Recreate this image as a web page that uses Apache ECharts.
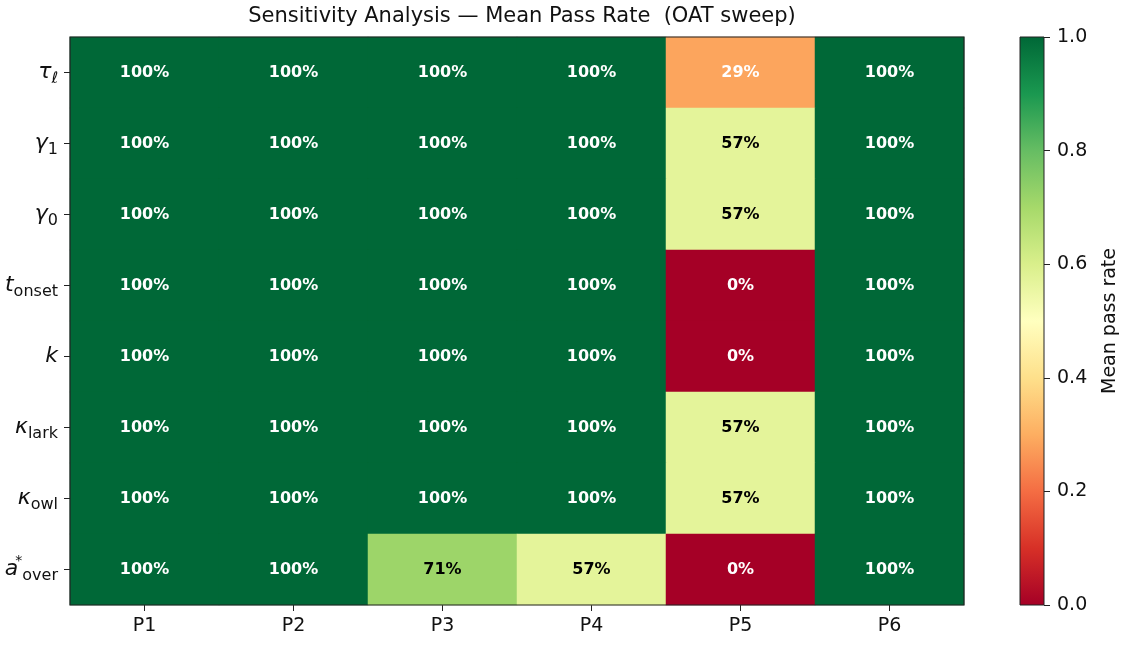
<!DOCTYPE html>
<html>
<head>
<meta charset="utf-8">
<script src="https://cdn.jsdelivr.net/npm/echarts@6/dist/echarts.min.js"></script>
<style>
  html, body { margin: 0; padding: 0; background: #fff; }
  #chart { width: 1121px; height: 646px; }
</style>
</head>
<body>
<div id="chart"></div>
<script>
// parameters (top to bottom) and profiles
var params = [
  '{i|τ}{s|ℓ}',
  '{i|γ}{s|1}',
  '{i|γ}{s|0}',
  '{i|t}{s|onset}',
  '{i|k}',
  '{i|κ}{s|lark}',
  '{i|κ}{s|owl}',
  '{i|a}{p|*}{s|over}'
];
var profiles = ['P1', 'P2', 'P3', 'P4', 'P5', 'P6'];

// mean pass rate per parameter row, one value per profile
var tauL   = [1, 1, 1, 1, 0.286, 1];
var gamma1 = [1, 1, 1, 1, 0.571, 1];
var gamma0 = [1, 1, 1, 1, 0.571, 1];
var tOnset = [1, 1, 1, 1, 0, 1];
var kRow   = [1, 1, 1, 1, 0, 1];
var kLark  = [1, 1, 1, 1, 0.571, 1];
var kOwl   = [1, 1, 1, 1, 0.571, 1];
var aOver  = [1, 1, 0.714, 0.571, 0, 1];

var rows = [tauL, gamma1, gamma0, tOnset, kRow, kLark, kOwl, aOver];

// RdYlGn stops
var rdylgn = ['#a50026', '#d73027', '#f46d43', '#fdae61', '#fee08b', '#ffffbf',
              '#d9ef8b', '#a6d96a', '#66bd63', '#1a9850', '#006837'];

var cells = [];
rows.forEach(function(row, r) {
  row.forEach(function(v, c) {
    var dark = v > 0.4 && v < 0.8;
    cells.push({
      value: [c, r, v],
      label: { color: dark ? '#000' : '#fff' }
    });
  });
});

// colorbar gradient, bottom (0) to top (1)
var cbStops = rdylgn.map(function(c, i) {
  return { offset: 1 - i / (rdylgn.length - 1), color: c };
});

var font = "'DejaVu Sans', sans-serif";
var ink = '#111';
var chart = echarts.init(document.getElementById('chart'));
chart.setOption({
  animation: false,
  textStyle: { fontFamily: font },
  title: {
    text: 'Sensitivity Analysis — Mean Pass Rate  (OAT sweep)',
    left: 517,
    textAlign: 'center',
    top: 1,
    textStyle: { fontFamily: font, fontSize: 21, fontWeight: 'normal', color: ink }
  },
  grid: [
    { left: 70, right: 157, top: 37, bottom: 41, show: true, borderColor: '#222', borderWidth: 1.2, z: 5 },
    { left: 1020, width: 27, top: 37, height: 568, show: true, borderColor: '#222', borderWidth: 1, z: 5 }
  ],
  xAxis: [
    {
      type: 'category', data: profiles, gridIndex: 0,
      axisLine: { show: false },
      axisTick: { show: true, alignWithLabel: true, length: 6, lineStyle: { color: '#222' } },
      axisLabel: { fontFamily: font, fontSize: 19, color: ink, margin: 12 },
      splitLine: { show: false }
    },
    { type: 'category', data: ['bar'], gridIndex: 1, show: false }
  ],
  yAxis: [
    {
      type: 'category', data: params, gridIndex: 0, inverse: true,
      axisLine: { show: false },
      axisTick: { show: true, alignWithLabel: true, length: 6, lineStyle: { color: '#222' } },
      axisLabel: {
        margin: 12, color: ink, fontFamily: font,
        rich: {
          i: { fontFamily: font, fontStyle: 'italic', fontSize: 22, color: ink },
          s: { fontFamily: font, fontSize: 16, color: ink, padding: [12, 0, 0, 0] },
          p: { fontFamily: font, fontSize: 14, color: ink, width: 0, padding: [0, 0, 16, 4] }
        }
      },
      splitLine: { show: false }
    },
    {
      type: 'value', gridIndex: 1, position: 'right', min: 0, max: 1, interval: 0.2,
      axisLine: { show: false },
      axisTick: { show: true, length: 6, lineStyle: { color: '#222' } },
      axisLabel: {
        fontFamily: font, fontSize: 19, color: ink, margin: 13,
        formatter: function(v) { return v.toFixed(1); }
      },
      splitLine: { show: false },
      name: 'Mean pass rate', nameLocation: 'middle', nameRotate: 90, nameGap: 57,
      nameTextStyle: { fontFamily: font, fontSize: 19, color: ink }
    }
  ],
  visualMap: {
    type: 'continuous', min: 0, max: 1, seriesIndex: 0, show: false,
    inRange: { color: rdylgn }
  },
  series: [
    {
      type: 'heatmap', xAxisIndex: 0, yAxisIndex: 0,
      data: cells,
      label: {
        show: true, fontFamily: font, fontSize: 16, fontWeight: 'bold',
        formatter: function(p) { return Math.round(p.value[2] * 100) + '%'; }
      },
      itemStyle: { borderWidth: 0 },
      emphasis: { disabled: true }
    },
    {
      type: 'bar', xAxisIndex: 1, yAxisIndex: 1, data: [1],
      barWidth: '100%', silent: true,
      itemStyle: { color: new echarts.graphic.LinearGradient(0, 0, 0, 1, cbStops) }
    }
  ]
});
</script>
</body>
</html>
